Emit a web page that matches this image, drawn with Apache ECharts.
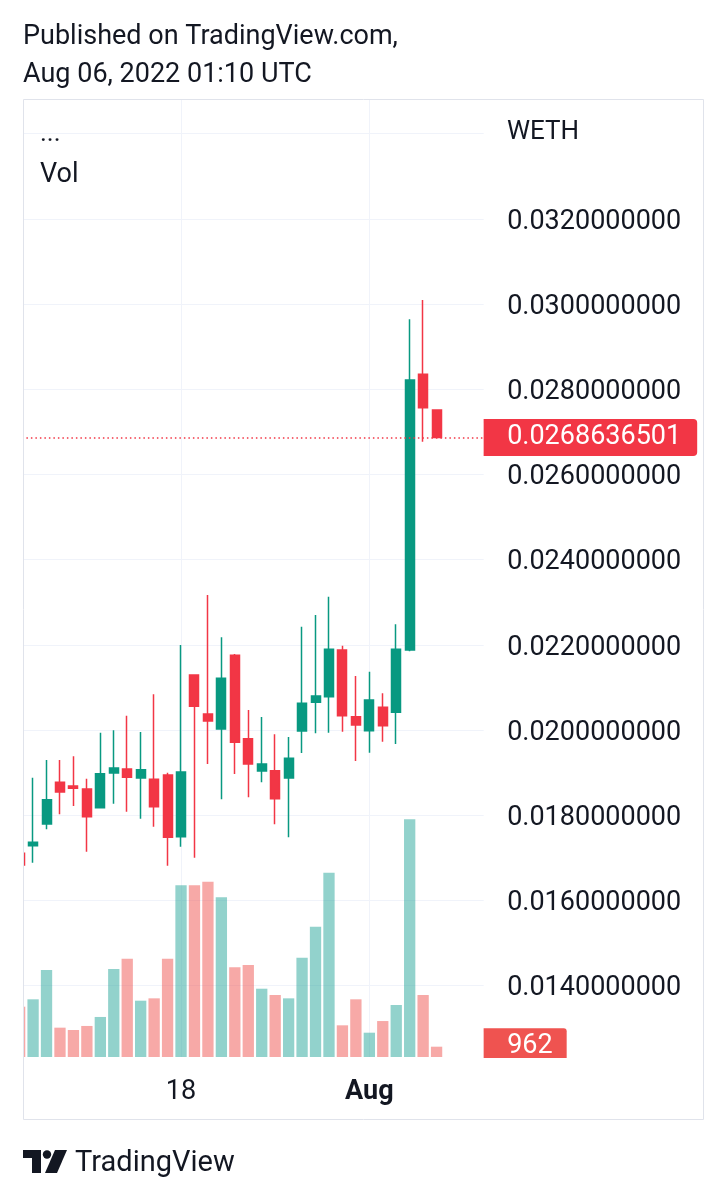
<!DOCTYPE html>
<html><head><meta charset="utf-8">
<script src="https://cdn.jsdelivr.net/npm/echarts@6/dist/echarts.min.js"></script>
<style>html,body{margin:0;padding:0;background:#fff}#c{width:725px;height:1200px}</style>
</head><body><div id="c"></div>
<script>
const categories = ['2022-07-06','2022-07-07','2022-07-08','2022-07-09','2022-07-10','2022-07-11','2022-07-12','2022-07-13','2022-07-14','2022-07-15','2022-07-16','2022-07-17','2022-07-18','2022-07-19','2022-07-20','2022-07-21','2022-07-22','2022-07-23','2022-07-24','2022-07-25','2022-07-26','2022-07-27','2022-07-28','2022-07-29','2022-07-30','2022-07-31','2022-08-01','2022-08-02','2022-08-03','2022-08-04','2022-08-05','2022-08-06','2022-08-07','2022-08-08','2022-08-09'];
const openVals  = [0.017106,0.017284,0.017793,0.018772,0.018685,0.018615,0.018176,0.018991,0.019085,0.018873,0.018843,0.018944,0.017495,0.021291,0.020376,0.020023,0.021754,0.019796,0.019038,0.019045,0.018873,0.019977,0.020650,0.020782,0.021878,0.020312,0.019984,0.020533,0.020415,0.021878,0.028350,0.027512];
const closeVals = [0.016831,0.017364,0.018364,0.018545,0.018631,0.017965,0.018974,0.019108,0.018890,0.019068,0.018200,0.017481,0.019014,0.020556,0.020211,0.021214,0.019711,0.019202,0.019202,0.018387,0.019336,0.020627,0.020798,0.021894,0.020336,0.020117,0.020704,0.020101,0.021894,0.028216,0.027566,0.0268636501];
const lowVals   = [0.016800,0.016885,0.017669,0.018021,0.018216,0.017143,0.018176,0.018270,0.018082,0.017918,0.017730,0.016815,0.017261,0.017000,0.019202,0.018373,0.018967,0.018420,0.018772,0.017786,0.017481,0.019460,0.019923,0.019937,0.019960,0.019272,0.019467,0.019725,0.019671,0.021850,0.026768,0.0268636501];
const highVals  = [0.017150,0.018880,0.019296,0.019296,0.019383,0.018857,0.019937,0.019993,0.020336,0.019953,0.020838,0.018998,0.021995,0.021291,0.023169,0.022176,0.021784,0.020469,0.020305,0.019899,0.019836,0.022425,0.022700,0.023129,0.021979,0.021268,0.021369,0.020861,0.022481,0.029641,0.030094,0.027512];
const volumes   = [4700,5390,8130,2740,2520,2900,3740,8220,9180,5260,5480,9180,16040,16040,16370,14920,8380,8590,6380,5790,5480,9280,12170,17210,2960,5390,2270,3360,4860,22200,5790,962];
const xTickDates  = ['2022-07-18','2022-08-01'];
const xTickLabels = ['18','Aug'];
const boldTickLabels = ['Aug'];
const lastPrice  = 0.0268636501;
const lastVolume = 962;

const UP = '#089981', DOWN = '#f23645';
const candleData = openVals.map((o, i) => [o, closeVals[i], lowVals[i], highVals[i]]);
const volData = volumes.map((v, i) => ({
  value: v,
  itemStyle: { color: closeVals[i] >= openVals[i] ? 'rgba(38,166,154,0.5)' : 'rgba(239,83,80,0.5)' }
}));
const FONT = 'Roboto';
const TXT = '#131722';
const GRIDC = '#f0f3fa';

const chart = echarts.init(document.getElementById('c'), null, { renderer: 'canvas' });
chart.setOption({
  animation: false,
  backgroundColor: '#ffffff',
  textStyle: { fontFamily: FONT },
  grid: [
    { left: 12.9, width: 470.75, top: 48.4, height: 1022.4, outerBoundsMode: 'none', containLabel: false },
    { left: 12.9, width: 470.75, top: 99, height: 958, outerBoundsMode: 'none', containLabel: false }
  ],
  xAxis: [
    { type: 'category', gridIndex: 0, data: categories, boundaryGap: true, show: false },
    { type: 'category', gridIndex: 1, data: categories, boundaryGap: true,
      axisLine: { show: false }, axisTick: { show: false },
      splitLine: { show: true, alignWithLabel: true, interval: (i, v) => xTickDates.includes(v), lineStyle: { color: GRIDC, width: 1 } },
      axisLabel: {
        interval: (i, v) => xTickDates.includes(v),
        margin: 22, fontSize: 27, color: TXT, fontFamily: FONT,
        formatter: v => { const k = xTickDates.indexOf(v); if (k < 0) return ''; const t = xTickLabels[k]; return boldTickLabels.includes(t) ? '{b|' + t + '}' : t; },
        rich: { b: { fontWeight: 'bold', fontSize: 27, color: TXT, fontFamily: FONT } }
      }
    }
  ],
  yAxis: [
    { type: 'value', gridIndex: 0, position: 'right', min: 0.012, max: 0.036, interval: 0.002, scale: false,
      axisLine: { show: false }, axisTick: { show: false },
      splitLine: { show: true, showMinLine: false, showMaxLine: false, lineStyle: { color: GRIDC, width: 1 } },
      axisLabel: { margin: 23.5, fontSize: 27, color: TXT, fontFamily: FONT, align: 'left',
        formatter: v => (v > 0.0139 && v < 0.0321) ? '{p|' + v.toFixed(10) + '}' : '',
        rich: { p: { fontSize: 27, color: TXT, fontFamily: FONT, lineHeight: 30, padding: [6, 0, 0, 0] } } }
    },
    { type: 'value', gridIndex: 1, min: 0, max: 89500, show: false, splitLine: { show: false } }
  ],
  series: [
    { type: 'bar', name: 'Vol', xAxisIndex: 1, yAxisIndex: 1, data: volData, barWidth: 11.3, z: 1,
      markLine: { silent: true, symbol: 'none', animation: false, precision: 10,
        lineStyle: { color: 'rgba(0,0,0,0)', width: 1, opacity: 1 },
        label: { show: true, position: 'end', distance: 0, formatter: () => String(lastVolume),
          backgroundColor: '#ef5350', color: '#ffffff', fontSize: 27, fontFamily: FONT,
          padding: [5, 14, 3, 23.5], lineHeight: 29, borderRadius: [0, 3, 3, 0] },
        data: [{ yAxis: lastVolume }] }
    },
    { type: 'candlestick', name: 'WETH', xAxisIndex: 0, yAxisIndex: 0, data: candleData, barWidth: 9.5, z: 3,
      itemStyle: { color: UP, color0: DOWN, borderColor: UP, borderColor0: DOWN, borderWidth: 1.5 },
      markLine: { silent: true, symbol: 'none', animation: false, precision: 10,
        lineStyle: { color: DOWN, width: 1.5, type: [1.5, 3], opacity: 1 },
        emphasis: { disabled: true },
        label: { show: true, position: 'end', distance: 0, formatter: () => lastPrice.toFixed(10),
          backgroundColor: DOWN, color: '#ffffff', fontSize: 27, fontFamily: FONT,
          padding: [5, 16, 3, 23.5], lineHeight: 29, borderRadius: [0, 4, 4, 0] },
        data: [{ yAxis: lastPrice, lineStyle: { color: DOWN } }] }
    }
  ],
  graphic: [
    { type: 'rect', z: 100, silent: true, shape: { x: 0, y: 95, width: 23, height: 1030 }, style: { fill: '#ffffff' } },
    { type: 'rect', z: 100, silent: true, shape: { x: 478, y: 1058, width: 224, height: 20 }, style: { fill: '#ffffff' } },
    { type: 'rect', z: 101, silent: true, shape: { x: 23.5, y: 99.5, width: 680, height: 1020 }, style: { fill: 'none', stroke: '#e0e3eb', lineWidth: 1 } },
    { type: 'text', z: 102, silent: true, style: { x: 23, y: 37, text: 'Published on TradingView.com,', font: '27px Roboto', fill: TXT, verticalAlign: 'middle' } },
    { type: 'text', z: 102, silent: true, style: { x: 23, y: 75, text: 'Aug 06, 2022 01:10 UTC', font: '27px Roboto', fill: TXT, verticalAlign: 'middle' } },
    { type: 'text', z: 102, silent: true, style: { x: 40, y: 134, text: '...', font: '26px Roboto', fill: TXT, verticalAlign: 'middle' } },
    { type: 'text', z: 102, silent: true, style: { x: 40, y: 175, text: 'Vol', font: '27px Roboto', fill: TXT, verticalAlign: 'middle' } },
    { type: 'text', z: 102, silent: true, style: { x: 507, y: 132, text: 'WETH', font: '26px Roboto', fill: TXT, verticalAlign: 'middle' } },
    { type: 'polygon', z: 102, silent: true, shape: { points: [[23,1150],[41,1150],[41,1173],[32,1173],[32,1158],[23,1158]] }, style: { fill: TXT } },
    { type: 'circle', z: 102, silent: true, shape: { cx: 47, cy: 1154.5, r: 4.2 }, style: { fill: TXT } },
    { type: 'polygon', z: 102, silent: true, shape: { points: [[55,1150],[67,1150],[57,1173],[45,1173]] }, style: { fill: TXT } },
    { type: 'text', z: 102, silent: true, style: { x: 75, y: 1164, text: 'TradingView', font: '29px Roboto', fill: TXT, verticalAlign: 'middle' } }
  ]
});
</script>
</body></html>
